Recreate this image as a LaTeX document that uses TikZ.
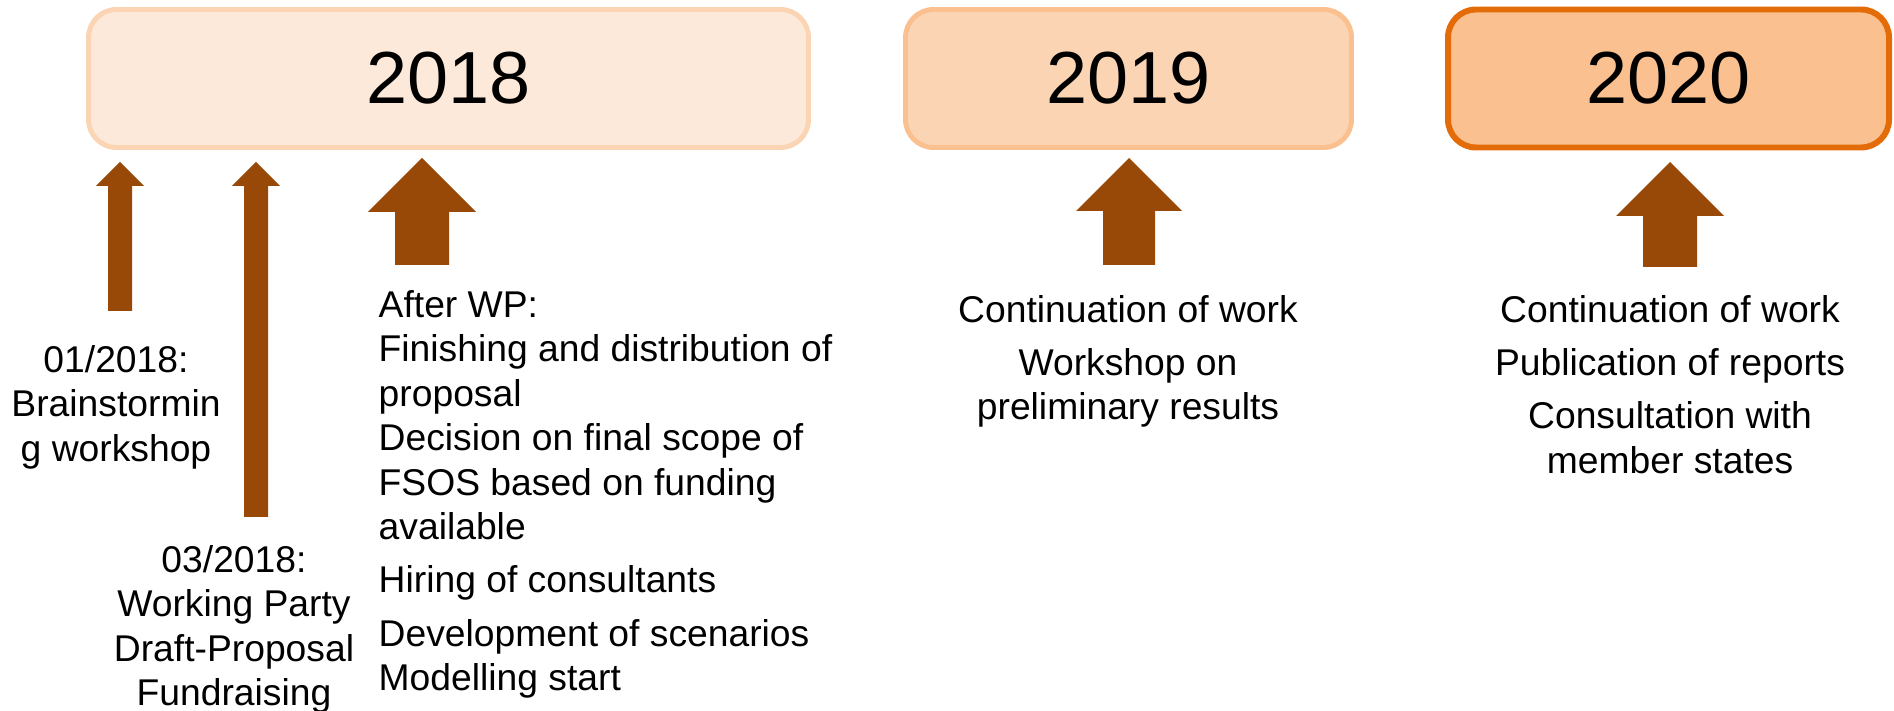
\documentclass[tikz,border=0pt]{standalone}
\usepackage{fontspec}
\setmainfont{Liberation Sans}
\usetikzlibrary{math}

\definecolor{peachfill}{HTML}{FDE9D9}
\definecolor{peachline}{HTML}{FBD4B4}
\definecolor{apricot}{HTML}{FAC08F}
\definecolor{deeporange}{HTML}{E36C09}
\definecolor{arrowbrown}{HTML}{984807}

\begin{document}
\begin{tikzpicture}[
    yearbox/.style = {rounded corners=0.28cm, line width=1.4pt, minimum height=1.38cm, font=\fontsize{21}{25}\selectfont},
    blockarrow/.style = {fill=arrowbrown},
    note/.style = {inner sep=0pt, anchor=north, align=center, font=\fontsize{10.6}{12.66}\selectfont}
    ]
    \useasboundingbox (0,0) rectangle (18.94,-7.11);

    % year boxes
    \node[yearbox, draw=peachline, fill=peachfill, minimum width=7.2cm] (y2018) at (4.485,-0.785) {2018};
    \node[yearbox, draw=apricot, fill=peachline, minimum width=4.46cm] (y2019) at (11.285,-0.785) {2019};
    \node[yearbox, draw=deeporange, fill=apricot, line width=1.7pt, minimum width=4.41cm] (y2020) at (16.685,-0.785) {2020};

    % thin arrows
    \tikzmath{\ytip = -1.62;};
    \tikzmath{\yhead = -1.86;};
    \fill[blockarrow] (1.08,-3.11) -- (1.32,-3.11) -- (1.32,\yhead) -- (1.44,\yhead) -- (1.2,\ytip) -- (0.96,\yhead) -- (1.08,\yhead) -- cycle;
    \fill[blockarrow] (2.44,-5.17) -- (2.68,-5.17) -- (2.68,\yhead) -- (2.80,\yhead) -- (2.56,\ytip) -- (2.32,\yhead) -- (2.44,\yhead) -- cycle;

    % big arrows
    \fill[blockarrow] (3.95,-2.65) -- (4.49,-2.65) -- (4.49,-2.12) -- (4.76,-2.12) -- (4.22,-1.58) -- (3.68,-2.12) -- (3.95,-2.12) -- cycle;
    \fill[blockarrow] (11.03,-2.65) -- (11.55,-2.65) -- (11.55,-2.11) -- (11.82,-2.11) -- (11.29,-1.58) -- (10.76,-2.11) -- (11.03,-2.11) -- cycle;
    \fill[blockarrow] (16.43,-2.67) -- (16.97,-2.67) -- (16.97,-2.16) -- (17.24,-2.16) -- (16.70,-1.62) -- (16.16,-2.16) -- (16.43,-2.16) -- cycle;

    % texts
    \node[note] (jan) at (1.16,-3.445) {01/2018:\\Brainstormin\\g workshop};
    \node[note] (mar) at (2.34,-5.445) {03/2018:\\Working Party\\Draft-Proposal\\Fundraising};
    \node[note, anchor=north west, align=left] (afterwp) at (3.78,-2.895) {After WP:\\Finishing and distribution of\\proposal\\Decision on final scope of\\FSOS based on funding\\available\\[2.5pt]Hiring of consultants\\[2.5pt]Development of scenarios\\Modelling start};
    \node[note] (work19) at (11.28,-2.945) {Continuation of work\\[2.5pt]Workshop on\\preliminary results};
    \node[note] (work20) at (16.70,-2.945) {Continuation of work\\[2.5pt]Publication of reports\\[2.5pt]Consultation with\\member states};
\end{tikzpicture}
\end{document}
